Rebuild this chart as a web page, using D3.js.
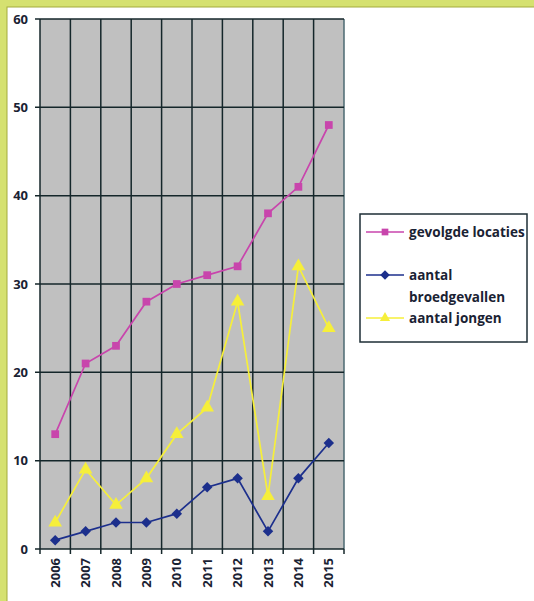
<!DOCTYPE html>
<html><head><meta charset="utf-8">
<script src="https://cdn.jsdelivr.net/npm/d3@7"></script>
<style>html,body{margin:0;padding:0;background:#fff;}svg{display:block;}</style>
</head><body>
<svg id="c" width="534" height="601"></svg>
<script>
const years = ["2006","2007","2008","2009","2010","2011","2012","2013","2014","2015"];
const gevolgdeLocaties = [13,21,23,28,30,31,32,38,41,48];
const aantalBroedgevallen = [1,2,3,3,4,7,8,2,8,12];
const aantalJongen = [3,9,5,8,13,16,28,6,32,25];
const yTicks = [0,10,20,30,40,50,60];
const seriesNames = [["gevolgde locaties"],["aantal","broedgevallen"],["aantal jongen"]];

const svg = d3.select("#c");
// frame
svg.append("rect").attr("x",0).attr("y",0).attr("width",534).attr("height",601).attr("fill","#d5e170");
svg.append("rect").attr("x",7).attr("y",7).attr("width",540).attr("height",600).attr("fill","#fff").attr("stroke","#a4ab3c").attr("stroke-width",1);

const L=40,R=344,T=19,B=549;
const x = d3.scaleBand().domain(years).range([L,R]);
const y = d3.scaleLinear().domain([0,60]).range([B,T]);

svg.append("rect").attr("x",L).attr("y",T).attr("width",R-L).attr("height",B-T).attr("fill","#c0c0c0");

const g = svg.append("g");
g.selectAll("line.v").data(years.slice(1)).join("line")
 .attr("x1",d=>x(d)).attr("x2",d=>x(d)).attr("y1",T).attr("y2",B)
 .attr("stroke","#14262a").attr("stroke-width",1.5);
g.append("line").attr("x1",R).attr("x2",R).attr("y1",T).attr("y2",B).attr("stroke","#4d6a72").attr("stroke-width",1.5);
g.selectAll("line.h").data(yTicks).join("line")
 .attr("x1",L-5).attr("x2",R).attr("y1",d=>y(d)).attr("y2",d=>y(d))
 .attr("stroke","#14262a").attr("stroke-width",1.5);
g.selectAll("line.xt").data(years.concat(["end"])).join("line")
 .attr("x1",(d,i)=>i<years.length?x(d):R).attr("x2",(d,i)=>i<years.length?x(d):R)
 .attr("y1",B).attr("y2",B+5).attr("stroke","#14262a").attr("stroke-width",1.5);
g.append("line").attr("x1",L).attr("x2",L).attr("y1",T).attr("y2",B).attr("stroke","#14262a").attr("stroke-width",1.5);

svg.selectAll("text.yl").data(yTicks).join("text")
 .attr("x",28).attr("y",d=>y(d)+4.5).attr("text-anchor","end")
 .attr("font-family","Open Sans, sans-serif").attr("font-weight","bold").attr("font-size",13)
 .attr("fill","#1a2233").text(d=>d);
svg.selectAll("text.xl").data(years).join("text")
 .attr("transform",d=>`translate(${x(d)+x.bandwidth()/2+4.5},558) rotate(-90)`)
 .attr("text-anchor","end")
 .attr("font-family","Open Sans, sans-serif").attr("font-weight","bold").attr("font-size",13)
 .attr("fill","#1a2233").text(d=>d);

const cx = d => x(d)+x.bandwidth()/2;
const line = d3.line().x((d,i)=>cx(years[i])).y(d=>y(d));
const cols = ["#c845ac","#1c2f8c","#f6ef3a"];

function drawSeries(vals,col,shape,rot,size){
  svg.append("path").datum(vals).attr("d",line).attr("fill","none").attr("stroke",col).attr("stroke-width",1.7);
  svg.selectAll(null).data(vals).join("path")
   .attr("transform",(d,i)=>`translate(${cx(years[i])},${y(d)}) rotate(${rot})`)
   .attr("d",d3.symbol().type(shape).size(size))
   .attr("fill",col);
}
drawSeries(gevolgdeLocaties,cols[0],d3.symbolSquare,0,60);
drawSeries(aantalJongen,cols[2],d3.symbolTriangle,0,80);
drawSeries(aantalBroedgevallen,cols[1],d3.symbolSquare,45,55);

const lg = svg.append("g");
lg.append("rect").attr("x",360).attr("y",214).attr("width",167).attr("height",128).attr("fill","#fff").attr("stroke","#1e2e36").attr("stroke-width",1.5);
const ly = [232,275,318];
const shapes=[d3.symbolSquare,d3.symbolSquare,d3.symbolTriangle];
const rots=[0,45,0];
seriesNames.forEach((nm,i)=>{
  lg.append("line").attr("x1",366).attr("x2",404).attr("y1",ly[i]).attr("y2",ly[i]).attr("stroke",cols[i]).attr("stroke-width",1.7);
  lg.append("path").attr("transform",`translate(385,${ly[i]}) rotate(${rots[i]})`).attr("d",d3.symbol().type(shapes[i]).size(45)).attr("fill",cols[i]);
  nm.forEach((t,j)=>{
    lg.append("text").attr("x",409).attr("y",ly[i]+5+j*22).attr("font-family","Open Sans, sans-serif")
      .attr("font-weight","bold").attr("font-size",13.5).attr("fill","#1a2233").text(t);
  });
});
</script>
</body></html>
